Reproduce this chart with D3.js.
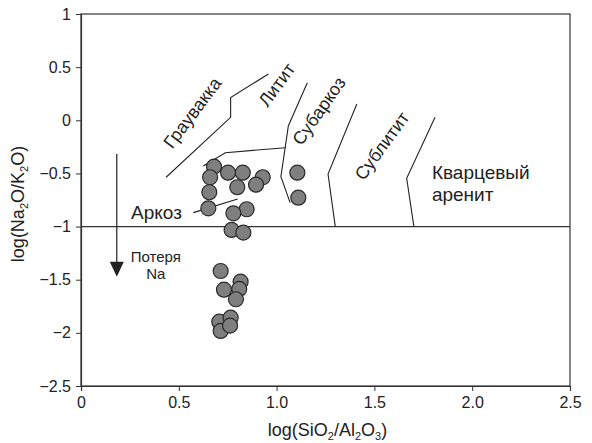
<!DOCTYPE html>
<meta charset="utf-8">
<script src="https://d3js.org/d3.v7.min.js"></script>
<style>
  body { margin: 0; background: #fff; }
  svg text { font-family: "Liberation Sans", Arial, sans-serif; fill: #222; }
</style>
<div id="chart"></div>
<script>

// sample points: log(SiO2/Al2O3), log(Na2O/K2O)
var xValues = [0.680, 0.660, 0.752, 0.827, 0.929, 0.895, 0.799, 0.656, 0.651, 0.847, 0.779, 0.770, 0.830, 1.106, 1.111,
               0.714, 0.816, 0.731, 0.809, 0.792, 0.707, 0.765, 0.714, 0.762];
var yValues = [-0.436, -0.536, -0.493, -0.493, -0.536, -0.606, -0.630, -0.677, -0.828, -0.837, -0.875, -1.032, -1.057, -0.493, -0.728,
               -1.418, -1.518, -1.594, -1.587, -1.684, -1.895, -1.857, -1.982, -1.932];

var xTicks = [0, 0.5, 1, 1.5, 2, 2.5];
var xTickLabels = ["0", "0.5", "1.0", "1.5", "2.0", "2.5"];
var yTicks = [1, 0.5, 0, -0.5, -1, -1.5, -2, -2.5];
var yTickLabels = ["1", "0.5", "0", "\u22120.5", "\u22121", "\u22121.5", "\u22122", "\u22122.5"];

// field boundaries (data units)
var boundaries = [
  [[0.435, -0.536], [0.765, 0.028], [0.765, 0.213], [0.958, 0.436]],          // граувакка / литит
  [[0.625, -0.430], [0.738, -0.305], [1.045, -0.258]],                        // аркоз top
  [[1.157, 0.354], [1.060, -0.054], [1.022, -0.531], [1.069, -0.775]],        // субаркоз
  [[1.410, 0.153], [1.263, -0.505], [1.300, -1.0]],                           // сублитит
  [[1.810, 0.028], [1.665, -0.546], [1.702, -1.0]],                           // кварцевый аренит
  [[0.574, -0.869], [0.801, -0.740]]                                          // аркоз pointer
];
var naLossLine = -1;

var rotLabels = [
  {t: "Граувакка", x: 0.570, y: 0.070, a: -53},
  {t: "Литит", x: 1.002, y: 0.332, a: -54},
  {t: "Субаркоз", x: 1.217, y: 0.087, a: -55},
  {t: "Сублитит", x: 1.539, y: -0.242, a: -54}
];

var margin = {top: 14, right: 22, bottom: 57, left: 81},
    width = 592 - margin.left - margin.right,
    height = 443 - margin.top - margin.bottom;

var svg = d3.select("#chart")
  .append("svg")
    .attr("width", 592)
    .attr("height", 443)
  .append("g")
    .attr("transform", "translate(" + margin.left + "," + margin.top + ")");

var x = d3.scaleLinear().domain([0, 2.5]).range([0, width]);
var y = d3.scaleLinear().domain([-2.5, 1]).range([height, 0]);

// frame
svg.append("rect")
  .attr("width", width).attr("height", height)
  .attr("fill", "none").attr("stroke", "#333").attr("stroke-width", 1.2);

var xAxis = svg.append("g")
  .attr("transform", "translate(0," + height + ")")
  .call(d3.axisBottom(x).tickValues(xTicks).tickSizeOuter(0).tickSize(5).tickPadding(6)
    .tickFormat(function(d, i) { return xTickLabels[i]; }));
var yAxis = svg.append("g")
  .call(d3.axisLeft(y).tickValues(yTicks).tickSizeOuter(0).tickSize(5).tickPadding(5)
    .tickFormat(function(d, i) { return yTickLabels[i]; }));
[xAxis, yAxis].forEach(function(g) {
  g.select(".domain").attr("stroke", "#333").attr("stroke-width", 1.2);
  g.selectAll(".tick line").attr("stroke", "#333");
  g.selectAll("text").style("font-size", "16px").attr("fill", "#222");
});

// axis titles
var xt = svg.append("text")
  .attr("x", width / 2 + 2).attr("y", height + 50)
  .attr("text-anchor", "middle").style("font-size", "18px");
xt.append("tspan").text("log(SiO");
xt.append("tspan").text("2").attr("dy", 4).style("font-size", "11px");
xt.append("tspan").text("/Al").attr("dy", -4);
xt.append("tspan").text("2").attr("dy", 4).style("font-size", "11px");
xt.append("tspan").text("O").attr("dy", -4);
xt.append("tspan").text("3").attr("dy", 4).style("font-size", "11px");
xt.append("tspan").text(")").attr("dy", -4);

var yt = svg.append("text")
  .attr("transform", "translate(" + (-57) + "," + (height / 2 + 4) + ") rotate(-90)")
  .attr("text-anchor", "middle").style("font-size", "18px");
yt.append("tspan").text("log(Na");
yt.append("tspan").text("2").attr("dy", 4).style("font-size", "11px");
yt.append("tspan").text("O/K").attr("dy", -4);
yt.append("tspan").text("2").attr("dy", 4).style("font-size", "11px");
yt.append("tspan").text("O)").attr("dy", -4);

// Na loss line
svg.append("line")
  .attr("x1", 0).attr("x2", width)
  .attr("y1", y(naLossLine)).attr("y2", y(naLossLine))
  .attr("stroke", "#333").attr("stroke-width", 1.3);

var line = d3.line().x(function(d) { return x(d[0]); }).y(function(d) { return y(d[1]); });
svg.selectAll(".bnd")
  .data(boundaries)
  .enter().append("path")
    .attr("d", line)
    .attr("fill", "none").attr("stroke", "#222").attr("stroke-width", 1.1);

// arrow
var ax = x(0.183);
svg.append("line")
  .attr("x1", ax).attr("x2", ax)
  .attr("y1", y(-0.317)).attr("y2", y(-1.35))
  .attr("stroke", "#222").attr("stroke-width", 1.2);
svg.append("path")
  .attr("d", "M" + (ax - 7) + "," + y(-1.33) + "L" + (ax + 7) + "," + y(-1.33) + "L" + ax + "," + y(-1.471) + "Z")
  .attr("fill", "#222");

// points
svg.selectAll(".pt")
  .data(xValues)
  .enter().append("circle")
    .attr("cx", function(d) { return x(d); })
    .attr("cy", function(d, i) { return y(yValues[i]); })
    .attr("r", 7.5)
    .attr("fill", "#7f7f7f")
    .attr("stroke", "#2a2a2a").attr("stroke-width", 1.2);

// field names
svg.selectAll(".rl")
  .data(rotLabels)
  .enter().append("text")
    .attr("transform", function(d) { return "translate(" + x(d.x) + "," + y(d.y) + ") rotate(" + d.a + ")"; })
    .attr("text-anchor", "middle").attr("dominant-baseline", "central")
    .style("font-size", "18px")
    .text(function(d) { return d.t; });

svg.append("text").attr("x", x(1.794)).attr("y", y(-0.552)).style("font-size", "19px").text("Кварцевый");
svg.append("text").attr("x", x(1.794)).attr("y", y(-0.755)).style("font-size", "19px").text("аренит");
svg.append("text").attr("x", x(0.256)).attr("y", y(-0.93)).style("font-size", "19px").text("Аркоз");
svg.append("text").attr("x", x(0.382)).attr("y", y(-1.335)).attr("text-anchor", "middle").style("font-size", "15px").text("Потеря");
svg.append("text").attr("x", x(0.382)).attr("y", y(-1.49)).attr("text-anchor", "middle").style("font-size", "15px").text("Na");

</script>
